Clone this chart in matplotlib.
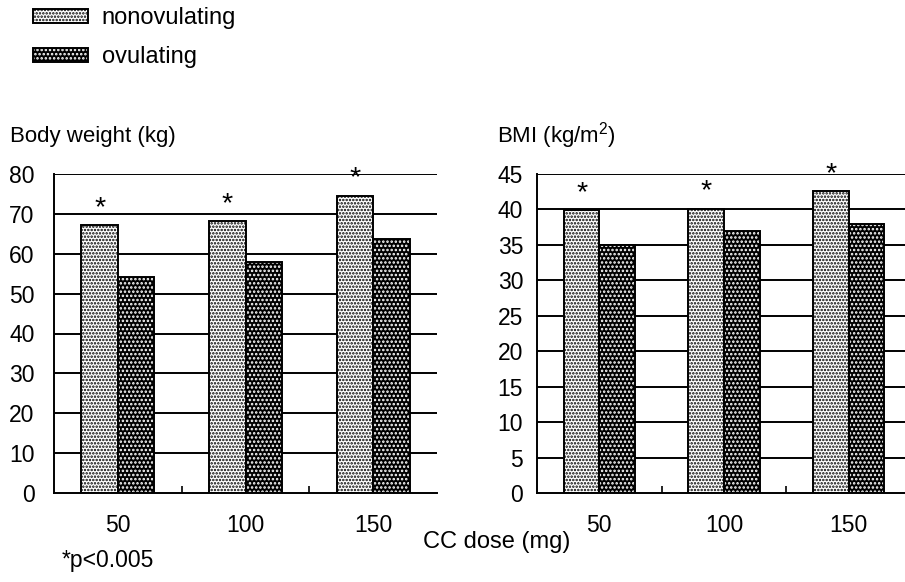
import numpy as np
import matplotlib
matplotlib.use("Agg")
import matplotlib.pyplot as plt
from matplotlib.patches import Patch
from matplotlib.legend_handler import HandlerTuple

plt.rcParams['font.family'] = ['Liberation Sans', 'DejaVu Sans']
plt.rcParams['mathtext.fontset'] = 'custom'
plt.rcParams['mathtext.rm'] = 'Liberation Sans'
plt.rcParams['mathtext.it'] = 'Liberation Sans'
plt.rcParams['hatch.linewidth'] = 1.2

# data
doses = ['50', '100', '150']
weight_nonov = [67.2, 68.1, 74.6]
weight_ov = [54.2, 57.9, 63.6]
bmi_nonov = [39.9, 40.1, 42.6]
bmi_ov = [35.0, 36.9, 37.9]
weight_ticks = np.arange(0, 81, 10)
bmi_ticks = np.arange(0, 46, 5)
significant = [True, True, True]

FS = 16.5
BAR_W = 0.285


def draw_panel(ax, nonov, ov, ticks, pad):
    x = np.arange(len(doses))
    ax.set_xlim(-0.5, len(doses) - 0.5)
    ax.set_ylim(ticks[0], ticks[-1])
    ax.set_yticks(ticks)
    for t in ticks[1:]:
        ax.axhline(t, color='black', lw=1.4, zorder=1)
    ax.bar(x - BAR_W / 2, nonov, BAR_W, facecolor='white', edgecolor='black',
           hatch='.....', lw=1.4, zorder=2)
    # dark bars: white dots on black, then a black outline
    ax.bar(x + BAR_W / 2, ov, BAR_W, facecolor='black', edgecolor='white',
           hatch='....', lw=0, zorder=2)
    ax.bar(x + BAR_W / 2, ov, BAR_W, fill=False, edgecolor='black', lw=1.4, zorder=3)
    for i, s in enumerate(significant):
        if s:
            ax.annotate('*', (x[i] - BAR_W / 2, nonov[i]), xytext=(0, 3),
                        textcoords='offset points', ha='center', va='bottom',
                        fontsize=FS + 4, annotation_clip=False, zorder=4)
    ax.set_xticks(x)
    ax.set_xticklabels(doses, fontsize=FS)
    ax.set_xticks([0.5, 1.5], minor=True)
    ax.tick_params(axis='x', which='major', length=0, pad=15)
    ax.tick_params(axis='x', which='minor', direction='in', length=5, width=1.2)
    ax.tick_params(axis='y', length=0, pad=pad, labelsize=FS)
    for side in ['top', 'right']:
        ax.spines[side].set_visible(False)
    for side in ['left', 'bottom']:
        ax.spines[side].set_linewidth(1.4)


fig = plt.figure(figsize=(9.05, 5.82), dpi=100)
ax1 = fig.add_axes([54 / 905, 89 / 582, 383 / 905, 319 / 582])
ax2 = fig.add_axes([537 / 905, 89 / 582, 374 / 905, 319 / 582])
draw_panel(ax1, weight_nonov, weight_ov, weight_ticks, 14)
draw_panel(ax2, bmi_nonov, bmi_ov, bmi_ticks, 10)

fig.text(10 / 905, 1 - 136 / 582, 'Body weight (kg)', fontsize=FS - 0.5, va='center')
fig.text(497 / 905, 1 - 136 / 582, 'BMI (kg/m$^2$)', fontsize=FS - 0.5, va='center')
fig.text(497 / 905, 1 - 542 / 582, 'CC dose (mg)', fontsize=FS + 0.5, ha='center', va='center')
fig.text(62 / 905, 1 - 561 / 582, '*p<0.005', fontsize=FS, va='center')

h_nonov = Patch(facecolor='white', edgecolor='black', hatch='.....', lw=1.4)
h_ov = (Patch(facecolor='black', edgecolor='white', hatch='....', lw=0),
        Patch(fill=False, edgecolor='black', lw=1.4))
fig.legend([h_nonov, h_ov], ['nonovulating', 'ovulating'],
           handler_map={tuple: HandlerTuple(ndivide=1, pad=0)},
           loc='upper left', bbox_to_anchor=(24 / 905, 1 + 2 / 582),
           frameon=False, fontsize=FS + 0.5, handlelength=2.3, handleheight=0.55,
           handletextpad=0.6, labelspacing=0.72, borderaxespad=0)

fig.savefig('out.png', dpi=100)
